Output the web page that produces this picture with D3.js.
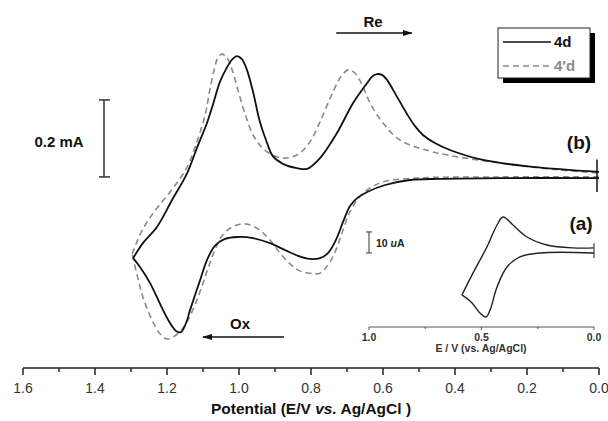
<!DOCTYPE html>
<html>
<head>
<meta charset="utf-8">
<script src="https://cdn.jsdelivr.net/npm/d3@7"></script>
<style>
  body { margin: 0; background: #fff; }
  text { font-family: "Liberation Sans", Arial, sans-serif; }
</style>
</head>
<body>
<div id="chart"></div>
<script>
// 4d: forward (oxidation) scan 0 -> 1.3 V, potentials (V) / currents (mA)
var solidFwdE = [0, 0.275, 0.442, 0.525, 0.594, 0.644, 0.672, 0.692, 0.711, 0.731, 0.753, 0.775, 0.803, 0.836, 0.872, 0.914, 0.961, 1.003, 1.039, 1.067, 1.089, 1.108, 1.136, 1.147, 1.161, 1.175, 1.192, 1.211, 1.247, 1.275, 1.294];
var solidFwdI = [-0.008, -0.008, -0.010, -0.013, -0.026, -0.044, -0.060, -0.081, -0.122, -0.169, -0.203, -0.216, -0.218, -0.210, -0.195, -0.177, -0.164, -0.161, -0.166, -0.184, -0.221, -0.273, -0.351, -0.384, -0.408, -0.405, -0.384, -0.351, -0.281, -0.239, -0.216];
// 4d: reverse (reduction) scan 1.3 -> 0 V
var solidRevE = [1.294, 1.267, 1.228, 1.186, 1.144, 1.117, 1.089, 1.072, 1.053, 1.036, 1.019, 1.006, 0.992, 0.978, 0.961, 0.942, 0.922, 0.906, 0.878, 0.839, 0.811, 0.775, 0.728, 0.683, 0.644, 0.631, 0.617, 0.603, 0.589, 0.561, 0.533, 0.511, 0.489, 0.456, 0.414, 0.322, 0.183, 0];
var solidRevI = [-0.216, -0.177, -0.135, -0.065, 0.005, 0.070, 0.135, 0.184, 0.242, 0.275, 0.300, 0.309, 0.301, 0.273, 0.216, 0.138, 0.083, 0.049, 0.029, 0.018, 0.016, 0.044, 0.109, 0.187, 0.239, 0.255, 0.262, 0.260, 0.247, 0.203, 0.158, 0.127, 0.104, 0.083, 0.065, 0.039, 0.021, 0.008];

// 4'd
var dashFwdE = [0, 0.275, 0.506, 0.600, 0.644, 0.672, 0.692, 0.711, 0.731, 0.753, 0.775, 0.803, 0.836, 0.858, 0.886, 0.914, 0.947, 0.983, 1.019, 1.047, 1.067, 1.086, 1.117, 1.150, 1.178, 1.200, 1.219, 1.239, 1.267, 1.283, 1.297];
var dashFwdI = [-0.005, -0.005, -0.008, -0.018, -0.039, -0.065, -0.096, -0.143, -0.195, -0.234, -0.255, -0.255, -0.247, -0.231, -0.203, -0.169, -0.140, -0.127, -0.135, -0.158, -0.195, -0.242, -0.325, -0.390, -0.418, -0.426, -0.413, -0.382, -0.317, -0.260, -0.205];
var dashRevE = [1.297, 1.267, 1.228, 1.183, 1.144, 1.117, 1.094, 1.081, 1.069, 1.058, 1.047, 1.033, 1.019, 1.003, 0.983, 0.956, 0.922, 0.878, 0.839, 0.803, 0.769, 0.739, 0.717, 0.697, 0.678, 0.658, 0.636, 0.600, 0.553, 0.461, 0.275, 0.108, 0];
var dashRevI = [-0.205, -0.140, -0.086, -0.034, 0.021, 0.086, 0.156, 0.221, 0.273, 0.306, 0.314, 0.304, 0.273, 0.221, 0.158, 0.096, 0.060, 0.044, 0.052, 0.086, 0.151, 0.216, 0.255, 0.273, 0.265, 0.234, 0.187, 0.135, 0.091, 0.060, 0.031, 0.013, 0.005];

// inset: potentials (V) / currents (uA)
var insetFwdE = [0, 0.24, 0.329, 0.387, 0.431, 0.462, 0.48, 0.507, 0.542, 0.587];
var insetFwdI = [-1.4, -1.4, -3.3, -8.1, -17.6, -28.6, -31.9, -30, -25.2, -21.4];
var insetRevE = [0.587, 0.538, 0.476, 0.431, 0.404, 0.36, 0.298, 0.209, 0.093, 0];
var insetRevI = [-21.4, -11, 1.4, 11.9, 15.7, 11.9, 6.2, 2.4, 1.0, 1.0];

var mainTicks = [1.6, 1.4, 1.2, 1.0, 0.8, 0.6, 0.4, 0.2, 0.0];
var mainMinor = [1.5, 1.3, 1.1, 0.9, 0.7, 0.5, 0.3, 0.1];
var insetTicks = [1.0, 0.5, 0.0];
var insetMinor = [0.75, 0.25];
var seriesNames = ["4d", "4'd"];

const width = 608, height = 421;

const svg = d3.select("#chart")
  .append("svg")
  .attr("width", width)
  .attr("height", height);

function branch(E, I) {
  return E.map((e, k) => [e, I[k]]);
}

// main scales
const x = d3.scaleLinear().domain([1.6, 0]).range([23, 599]);
const y = d3.scaleLinear().domain([0, 0.2]).range([175, 98]);

const line = d3.line()
  .x(d => x(d[0]))
  .y(d => y(d[1]))
  .curve(d3.curveCatmullRom.alpha(0.5));

var dashed = [branch(dashFwdE, dashFwdI), branch(dashRevE, dashRevI)];
var solid = [branch(solidFwdE, solidFwdI), branch(solidRevE, solidRevI)];

svg.selectAll(".dash").data(dashed).join("path")
  .attr("d", line)
  .attr("fill", "none")
  .attr("stroke", "#8a8a8a")
  .attr("stroke-width", 1.6)
  .attr("stroke-dasharray", "6,4");

svg.selectAll(".solid").data(solid).join("path")
  .attr("d", line)
  .attr("fill", "none")
  .attr("stroke", "#111")
  .attr("stroke-width", 1.8)
  .attr("stroke-linejoin", "round");

// start marker at 0 V
svg.append("line")
  .attr("x1", x(0) - 2).attr("x2", x(0) - 2)
  .attr("y1", y(0.04)).attr("y2", y(-0.044))
  .attr("stroke", "#111").attr("stroke-width", 1.5);

// main x axis (ticks hang down)
const xAxis = svg.append("g").attr("transform", "translate(0,368)");
xAxis.append("line")
  .attr("x1", x(1.6)).attr("x2", x(0))
  .attr("stroke", "#222").attr("stroke-width", 1.5);
xAxis.selectAll(".maj").data(mainTicks).join("line")
  .attr("x1", d => x(d)).attr("x2", d => x(d))
  .attr("y1", 0).attr("y2", 7)
  .attr("stroke", "#222").attr("stroke-width", 1.5);
xAxis.selectAll(".min").data(mainMinor).join("line")
  .attr("x1", d => x(d)).attr("x2", d => x(d))
  .attr("y1", 0).attr("y2", 4)
  .attr("stroke", "#222").attr("stroke-width", 1.5);
xAxis.selectAll("text").data(mainTicks).join("text")
  .attr("x", d => x(d))
  .attr("y", 25)
  .attr("text-anchor", "middle")
  .attr("font-size", 14)
  .attr("fill", "#333")
  .text(d => d.toFixed(1));

const title = svg.append("text")
  .attr("x", 311).attr("y", 414)
  .attr("text-anchor", "middle")
  .attr("font-size", 15.5)
  .attr("font-weight", "bold")
  .attr("fill", "#111");
title.append("tspan").text("Potential (E/V ");
title.append("tspan").attr("font-style", "italic").text("vs.");
title.append("tspan").text(" Ag/AgCl )");

// 0.2 mA scale bar
const bar = svg.append("g").attr("stroke", "#333").attr("stroke-width", 1.5);
bar.append("line").attr("x1", 104).attr("x2", 104).attr("y1", y(-0.005)).attr("y2", y(0.195));
bar.append("line").attr("x1", 99).attr("x2", 110).attr("y1", y(-0.005)).attr("y2", y(-0.005));
bar.append("line").attr("x1", 99).attr("x2", 110).attr("y1", y(0.195)).attr("y2", y(0.195));
svg.append("text")
  .attr("x", 59).attr("y", 147)
  .attr("text-anchor", "middle")
  .attr("font-size", 15)
  .attr("font-weight", "bold")
  .attr("fill", "#111")
  .text("0.2 mA");

// arrows
svg.append("defs").append("marker")
  .attr("id", "head")
  .attr("viewBox", "0 0 10 6")
  .attr("refX", 9).attr("refY", 3)
  .attr("markerWidth", 10).attr("markerHeight", 6)
  .attr("markerUnits", "userSpaceOnUse")
  .attr("orient", "auto")
  .append("path")
  .attr("d", "M0,0 L10,3 L0,6 Z")
  .attr("fill", "#111");

svg.append("line")
  .attr("x1", x(0.73)).attr("x2", x(0.52))
  .attr("y1", 33).attr("y2", 33)
  .attr("stroke", "#111").attr("stroke-width", 1.5)
  .attr("marker-end", "url(#head)");
svg.append("text")
  .attr("x", 373).attr("y", 27)
  .attr("text-anchor", "middle")
  .attr("font-size", 15).attr("font-weight", "bold").attr("fill", "#111")
  .text("Re");

svg.append("line")
  .attr("x1", x(0.875)).attr("x2", x(1.1))
  .attr("y1", 337).attr("y2", 337)
  .attr("stroke", "#111").attr("stroke-width", 1.5)
  .attr("marker-end", "url(#head)");
svg.append("text")
  .attr("x", 240).attr("y", 329)
  .attr("text-anchor", "middle")
  .attr("font-size", 15).attr("font-weight", "bold").attr("fill", "#111")
  .text("Ox");

svg.append("text")
  .attr("x", 579).attr("y", 149)
  .attr("text-anchor", "middle")
  .attr("font-size", 19).attr("font-weight", "bold").attr("fill", "#111")
  .text("(b)");
svg.append("text")
  .attr("x", 581).attr("y", 230)
  .attr("text-anchor", "middle")
  .attr("font-size", 19).attr("font-weight", "bold").attr("fill", "#111")
  .text("(a)");

// legend
const legend = svg.append("g");
legend.append("rect")
  .attr("x", 503).attr("y", 33).attr("width", 92).attr("height", 50)
  .attr("fill", "#000");
legend.append("rect")
  .attr("x", 498).attr("y", 28).attr("width", 92).attr("height", 50)
  .attr("fill", "#fff").attr("stroke", "#222").attr("stroke-width", 1);
legend.selectAll(".ll").data(seriesNames).join("line")
  .attr("x1", 503).attr("x2", 551)
  .attr("y1", (d, k) => 42 + k * 24).attr("y2", (d, k) => 42 + k * 24)
  .attr("stroke", (d, k) => k ? "#8a8a8a" : "#111")
  .attr("stroke-width", 1.5)
  .attr("stroke-dasharray", (d, k) => k ? "6,4" : null);
legend.selectAll("text").data(seriesNames).join("text")
  .attr("x", 554).attr("y", (d, k) => 47 + k * 24)
  .attr("font-size", 15).attr("font-weight", "bold")
  .attr("fill", (d, k) => k ? "#8a8a8a" : "#111")
  .text(d => d);

// inset
const ix = d3.scaleLinear().domain([1.0, 0]).range([369, 594]);
const iy = d3.scaleLinear().domain([0, 10]).range([250, 229]);

const iline = d3.line()
  .x(d => ix(d[0]))
  .y(d => iy(d[1]))
  .curve(d3.curveCatmullRom.alpha(0.5));

svg.selectAll(".inset").data([branch(insetFwdE, insetFwdI), branch(insetRevE, insetRevI)]).join("path")
  .attr("d", iline)
  .attr("fill", "none")
  .attr("stroke", "#222")
  .attr("stroke-width", 1.4);

svg.append("line")
  .attr("x1", ix(0)).attr("x2", ix(0))
  .attr("y1", iy(3.3)).attr("y2", iy(-3.8))
  .attr("stroke", "#444").attr("stroke-width", 1.2);

// 10 uA bar
const ibar = svg.append("g").attr("stroke", "#555").attr("stroke-width", 1.2);
ibar.append("line").attr("x1", 369).attr("x2", 369).attr("y1", iy(-1.4)).attr("y2", iy(8.6));
ibar.append("line").attr("x1", 366).attr("x2", 372).attr("y1", iy(-1.4)).attr("y2", iy(-1.4));
ibar.append("line").attr("x1", 366).attr("x2", 372).attr("y1", iy(8.6)).attr("y2", iy(8.6));
const ilab = svg.append("text")
  .attr("x", 376).attr("y", 247)
  .attr("font-size", 10.5).attr("font-weight", "bold").attr("fill", "#222");
ilab.append("tspan").text("10 ");
ilab.append("tspan").attr("font-style", "italic").text("u");
ilab.append("tspan").text("A");

const iAxis = svg.append("g").attr("transform", "translate(0,327)");
iAxis.append("line")
  .attr("x1", ix(1)).attr("x2", ix(0))
  .attr("stroke", "#555").attr("stroke-width", 1);
iAxis.selectAll(".maj").data(insetTicks).join("line")
  .attr("x1", d => ix(d)).attr("x2", d => ix(d))
  .attr("y1", 0).attr("y2", 3)
  .attr("stroke", "#555");
iAxis.selectAll(".min").data(insetMinor).join("line")
  .attr("x1", d => ix(d)).attr("x2", d => ix(d))
  .attr("y1", 0).attr("y2", 2)
  .attr("stroke", "#555");
iAxis.selectAll("text").data(insetTicks).join("text")
  .attr("x", d => ix(d))
  .attr("y", 14)
  .attr("text-anchor", "middle")
  .attr("font-size", 10.5).attr("font-weight", "bold").attr("fill", "#333")
  .text(d => d.toFixed(1));
svg.append("text")
  .attr("x", 481).attr("y", 352)
  .attr("text-anchor", "middle")
  .attr("font-size", 10.5).attr("font-weight", "bold").attr("fill", "#333")
  .text("E / V (vs. Ag/AgCl)");
</script>
</body>
</html>
